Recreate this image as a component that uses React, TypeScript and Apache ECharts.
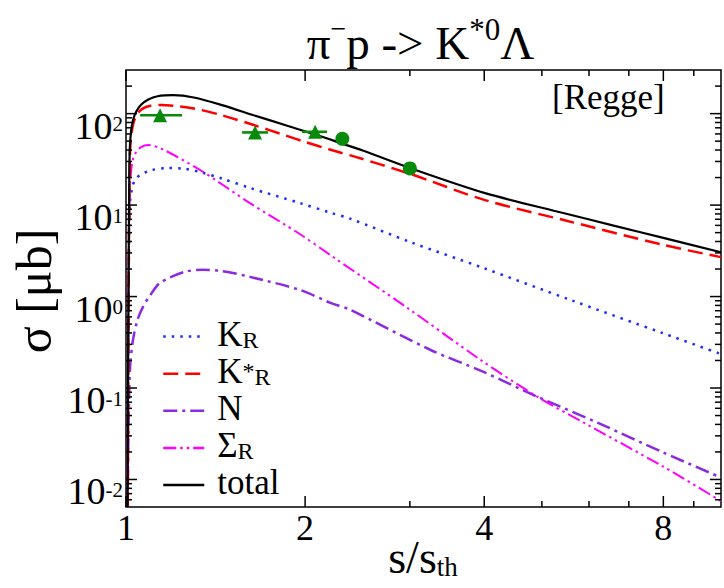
import React, { useEffect, useRef } from 'react';
import * as echarts from 'echarts';

const SERIF = '"Liberation Serif", "Times New Roman", serif';

// axis ranges and ticks
const X_MIN = 1;
const X_MAX = 10;
const Y_MIN = 0.005;
const Y_MAX = 300;
const X_LABELS = [1, 2, 4, 8];
const X_MINOR = [3, 5, 6, 7, 9];
const Y_LABELS = [0.01, 0.1, 1, 10, 100];
const Y_MINOR = [
  0.006, 0.007, 0.008, 0.009,
  0.02, 0.03, 0.04, 0.05, 0.06, 0.07, 0.08, 0.09,
  0.2, 0.3, 0.4, 0.5, 0.6, 0.7, 0.8, 0.9,
  2, 3, 4, 5, 6, 7, 8, 9,
  20, 30, 40, 50, 60, 70, 80, 90,
  200,
];

// curves: [s/s_th, sigma (mu b)]
const TOTAL = [
  [1.006, 0.005], [1.009, 0.5], [1.012, 10], [1.0145, 40], [1.02, 65], [1.0275, 85],
  [1.04, 105], [1.06, 125], [1.09, 143], [1.13, 155], [1.2, 159], [1.3, 150],
  [1.45, 124], [1.64, 96], [1.85, 75], [2.1, 58], [2.31, 47], [2.5, 39.5], [3.0, 25.4],
  [4.0, 13.6], [5.43, 8.2], [6.6, 5.97], [8, 4.38], [10, 3.05],
];
const KSTAR_R = [
  [1.007, 0.005], [1.01, 0.8], [1.013, 12], [1.016, 40], [1.022, 62], [1.03, 80],
  [1.045, 100], [1.07, 115], [1.1, 122], [1.14, 124], [1.2, 122], [1.3, 114],
  [1.45, 96], [1.64, 75], [1.85, 58], [2.0, 49], [2.2, 40.5], [2.4, 34.5], [3.0, 22],
  [4.0, 11.4], [5.5, 6.75], [8, 3.67], [10, 2.7],
];
const K_R = [
  [1.006, 0.005], [1.01, 1], [1.015, 10], [1.025, 16], [1.04, 19.5], [1.056, 21.3],
  [1.1, 24], [1.172, 25.4], [1.25, 25], [1.332, 23], [1.45, 19.5], [1.616, 15.4],
  [1.962, 10.5], [2.2, 8.3], [2.381, 7.1], [3.0, 3.96], [3.98, 2.06], [5.58, 0.92],
  [8, 0.396], [10, 0.235],
];
const SIGMA_R = [
  [1.006, 0.005], [1.01, 2], [1.015, 15], [1.025, 30], [1.04, 38], [1.06, 43],
  [1.089, 45.3], [1.15, 41], [1.332, 24.2], [1.616, 10.5], [1.962, 4.8], [2.203, 2.85],
  [2.97, 0.753], [3.94, 0.204], [4.91, 0.0804], [5.87, 0.042], [8, 0.0138], [10, 0.0058],
];
const N_EXCH = [
  [1.006, 0.005], [1.01, 0.04], [1.016, 0.17], [1.0275, 0.337], [1.045, 0.55],
  [1.068, 0.772], [1.1, 1.05], [1.141, 1.41], [1.25, 1.85], [1.347, 1.96], [1.45, 1.9],
  [1.616, 1.64], [1.962, 1.18], [2.2, 0.86], [2.381, 0.716], [3.245, 0.262],
  [3.98, 0.151], [4.91, 0.0804], [6.2, 0.0418], [8, 0.0197], [10, 0.0105],
];

// data points
const TRI_X = [1.141, 1.648, 2.079];
const TRI_Y = [96, 62.3, 63.3];
const TRI_XLO = [1.056, 1.567, 1.977];
const TRI_XHI = [1.242, 1.733, 2.177];
const CIRC_X = [2.31, 3.0];
const CIRC_Y = [53, 25.2];

const LEGEND_NAMES = ['KR', 'K*R', 'N', 'ΣR', 'total'];
const LEGEND_TEXT: Record<string, string> = {
  KR: '{n|K}{sub|R}',
  'K*R': '{n|K}{sup|*}{sub|R}',
  N: '{n|N}',
  'ΣR': '{n|Σ}{sub|R}',
  total: '{n|total}',
};

const GREEN = '#0a8a0a';

function buildOption() {
  const lineSeries = (name: string, data: number[][], color: string, type: any, width: number) => ({
    type: 'line',
    name,
    data,
    symbol: 'none',
    showSymbol: false,
    smooth: 0.3,
    clip: true,
    silent: true,
    z: 3,
    itemStyle: { color },
    lineStyle: { color, width, type, cap: 'butt' },
  });

  const xTickData = [
    ...X_LABELS.map((v) => [v, 1, 1]),
    ...X_MINOR.map((v) => [v, 1, 0]),
  ];
  const yTickData = [
    ...Y_LABELS.map((v) => [1, v, 1]),
    ...Y_MINOR.map((v) => [1, v, 0]),
  ];
  const tickStyle = { stroke: '#000', lineWidth: 1.5 };

  return {
    animation: false,
    backgroundColor: '#fff',
    grid: {
      left: 126,
      right: 3,
      top: 70,
      bottom: 81,
      show: true,
      borderColor: '#000',
      borderWidth: 1.5,
      backgroundColor: 'transparent',
    },
    legend: {
      orient: 'vertical',
      left: 162,
      top: 316.6,
      padding: 0,
      itemWidth: 41,
      itemHeight: 14,
      itemGap: 2.1,
      selectedMode: false,
      data: LEGEND_NAMES,
      formatter: (name: string) => LEGEND_TEXT[name],
      itemStyle: { opacity: 0, borderWidth: 0 },
      lineStyle: { width: 2.5 },
      textStyle: {
        color: '#000',
        padding: [0, 0, 0, 8],
        rich: {
          n: { fontFamily: SERIF, fontSize: 35, lineHeight: 30, verticalAlign: 'bottom', color: '#000' },
          sub: { fontFamily: SERIF, fontSize: 24, lineHeight: 14, verticalAlign: 'bottom', color: '#000' },
          sup: { fontFamily: SERIF, fontSize: 24, lineHeight: 20, verticalAlign: 'top', color: '#000' },
        },
      },
    },
    xAxis: {
      type: 'log',
      logBase: 2,
      min: X_MIN,
      max: X_MAX,
      axisLine: { show: false },
      axisTick: { show: false },
      splitLine: { show: false },
      minorTick: { show: false },
      axisLabel: {
        margin: 3,
        fontFamily: SERIF,
        fontSize: 36,
        color: '#000',
        formatter: (v: number) => {
          const hit = X_LABELS.find((t) => Math.abs(t - v) < 1e-6);
          return hit === undefined ? '' : String(hit);
        },
      },
    },
    yAxis: {
      type: 'log',
      logBase: 10,
      min: Y_MIN,
      max: Y_MAX,
      axisLine: { show: false },
      axisTick: { show: false },
      splitLine: { show: false },
      minorTick: { show: false },
      axisLabel: {
        margin: 3,
        verticalAlign: 'top',
        formatter: (v: number) => {
          const l = Math.log10(v);
          const r = Math.round(l);
          if (Math.abs(l - r) > 1e-6) return '';
          return `{b|10}{s|${r}}`;
        },
        rich: {
          b: { fontFamily: SERIF, fontSize: 38, lineHeight: 31, verticalAlign: 'bottom', color: '#000' },
          s: { fontFamily: SERIF, fontSize: 21, lineHeight: 1, verticalAlign: 'top', color: '#000' },
        },
      },
    },
    graphic: [
      {
        type: 'text',
        x: 420.5,
        y: 14,
        silent: true,
        style: {
          text: '{a|π}{m|−}{a|p -> K}{s|*0}{a|Λ}',
          align: 'center',
          verticalAlign: 'top',
          rich: {
            a: { fontFamily: SERIF, fontSize: 47, lineHeight: 52, verticalAlign: 'bottom', fill: '#000' },
            m: { fontFamily: SERIF, fontSize: 28, lineHeight: 16, verticalAlign: 'top', fill: '#000' },
            s: { fontFamily: SERIF, fontSize: 31, lineHeight: 25, verticalAlign: 'top', fill: '#000' },
          },
        },
      },
      {
        type: 'text',
        x: 552,
        y: 97,
        silent: true,
        style: { text: '[Regge]', fontFamily: SERIF, fontSize: 35, fill: '#000', verticalAlign: 'middle' },
      },
      {
        type: 'text',
        x: 34,
        y: 291,
        rotation: Math.PI / 2,
        silent: true,
        style: {
          text: 'σ [μb]',
          fontFamily: SERIF,
          fontSize: 50,
          fill: '#000',
          align: 'center',
          verticalAlign: 'middle',
        },
      },
      {
        type: 'text',
        x: 423,
        y: 565.5,
        silent: true,
        style: {
          text: '{a|s/s}{b|th}',
          align: 'center',
          verticalAlign: 'middle',
          rich: {
            a: { fontFamily: SERIF, fontSize: 46, lineHeight: 30, verticalAlign: 'bottom', fill: '#000' },
            b: { fontFamily: SERIF, fontSize: 27, lineHeight: 5, verticalAlign: 'bottom', fill: '#000' },
          },
        },
      },
    ],
    series: [
      lineSeries('KR', K_R, '#1a2cff', [2.5, 6], 2.5),
      lineSeries('N', N_EXCH, '#8a2be2', [14, 5, 3, 5], 2.5),
      lineSeries('ΣR', SIGMA_R, '#ff00ff', [13, 4, 2.5, 4, 2.5, 4], 2),
      lineSeries('K*R', KSTAR_R, '#ff0000', [15, 7], 2.5),
      lineSeries('total', TOTAL, '#000000', 'solid', 2.2),
      {
        type: 'custom',
        name: 'errorbars',
        silent: true,
        z: 6,
        data: TRI_X.map((_, i) => [TRI_XLO[i], TRI_XHI[i], TRI_Y[i]]),
        encode: { x: 0, y: 2 },
        renderItem: (params: any, api: any) => {
          const p1 = api.coord([api.value(0), api.value(2)]);
          const p2 = api.coord([api.value(1), api.value(2)]);
          return {
            type: 'line',
            shape: { x1: p1[0], y1: p1[1], x2: p2[0], y2: p2[1] },
            style: { stroke: GREEN, lineWidth: 2.6 },
          };
        },
      },
      {
        type: 'scatter',
        name: 'triangles',
        silent: true,
        z: 7,
        symbol: 'triangle',
        symbolSize: 14,
        itemStyle: { color: GREEN, opacity: 1 },
        data: TRI_X.map((x, i) => [x, TRI_Y[i]]),
      },
      {
        type: 'scatter',
        name: 'circles',
        silent: true,
        z: 7,
        symbol: 'circle',
        symbolSize: 14,
        itemStyle: { color: GREEN, opacity: 1 },
        data: CIRC_X.map((x, i) => [x, CIRC_Y[i]]),
      },
      {
        type: 'custom',
        name: 'xticks',
        silent: true,
        z: 8,
        data: xTickData,
        encode: { x: 0, y: 1 },
        renderItem: (params: any, api: any) => {
          const v = api.value(0);
          const len = api.value(2) === 1 ? 11 : 6;
          const b = api.coord([v, Y_MIN]);
          const t = api.coord([v, Y_MAX]);
          return {
            type: 'group',
            children: [
              { type: 'line', shape: { x1: b[0], y1: b[1], x2: b[0], y2: b[1] - len }, style: tickStyle },
              { type: 'line', shape: { x1: t[0], y1: t[1], x2: t[0], y2: t[1] + len }, style: tickStyle },
            ],
          };
        },
      },
      {
        type: 'custom',
        name: 'yticks',
        silent: true,
        z: 8,
        data: yTickData,
        encode: { x: 0, y: 1 },
        renderItem: (params: any, api: any) => {
          const v = api.value(1);
          const len = api.value(2) === 1 ? 11 : 6;
          const l = api.coord([X_MIN, v]);
          const r = api.coord([X_MAX, v]);
          return {
            type: 'group',
            children: [
              { type: 'line', shape: { x1: l[0], y1: l[1], x2: l[0] + len, y2: l[1] }, style: tickStyle },
              { type: 'line', shape: { x1: r[0], y1: r[1], x2: r[0] - len, y2: r[1] }, style: tickStyle },
            ],
          };
        },
      },
    ],
  };
}

export default function App() {
  const ref = useRef<HTMLDivElement>(null);
  useEffect(() => {
    if (!ref.current) return;
    const chart = echarts.init(ref.current, null, { renderer: 'svg' });
    chart.setOption(buildOption() as any);
    return () => chart.dispose();
  }, []);
  return (
    <div
      ref={ref}
      style={{ position: 'fixed', left: 0, top: 0, width: 724, height: 588, background: '#fff' }}
    />
  );
}
